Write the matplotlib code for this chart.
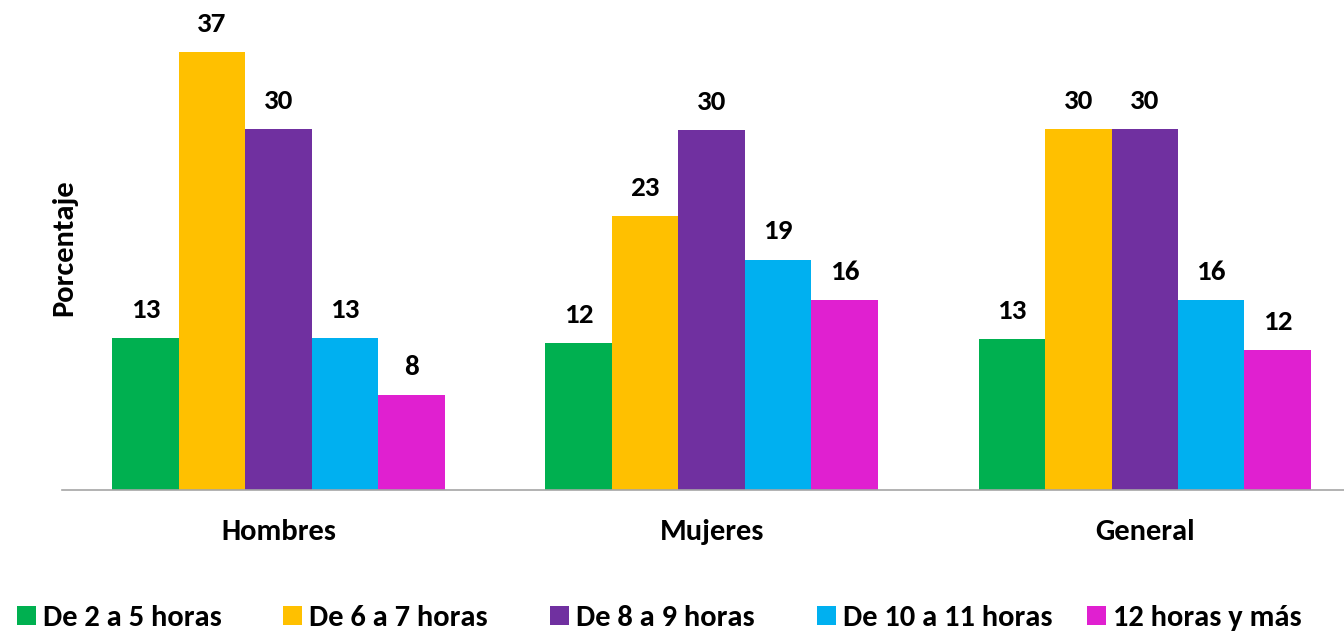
import matplotlib
matplotlib.use("Agg")
import matplotlib.pyplot as plt
import numpy as np
from matplotlib.patches import Patch

plt.rcParams['font.family'] = ['Carlito', 'DejaVu Sans']
plt.rcParams['font.weight'] = 'bold'

grupos = ["Hombres", "Mujeres", "General"]
series = ["De 2 a 5 horas", "De 6 a 7 horas", "De 8 a 9 horas",
          "De 10 a 11 horas", "12 horas y más"]
colores = ["#00B050", "#FFC000", "#7030A0", "#00B0F0", "#E020D0"]

h_2a5 = [12.8, 12.4, 12.7]
h_6a7 = [36.9, 23.1, 30.4]
h_8a9 = [30.4, 30.3, 30.4]
h_10a11 = [12.8, 19.4, 16.0]
h_12mas = [8.0, 16.0, 11.8]
valores = [h_2a5, h_6a7, h_8a9, h_10a11, h_12mas]

fig = plt.figure(figsize=(13.44, 6.35), dpi=100)
ax = fig.add_axes([62/1344, 145/635, 1282/1344, 475/635])

x = np.arange(len(grupos))
w = 0.1535
for i, (vals, c) in enumerate(zip(valores, colores)):
    pos = x + (i - 2) * w
    bars = ax.bar(pos, vals, width=w, color=c, label=series[i])
    for b, v in zip(bars, vals):
        ax.text(b.get_x() + b.get_width()/2, v + 1.7, "%.0f" % v,
                ha="center", va="baseline", fontsize=21, fontweight="bold")

ax.set_xlim(-0.5, 2.46)
ax.set_ylim(0, 40)
ax.set_yticks([])
ax.set_xticks(x)
ax.set_xticklabels(grupos, fontsize=22, fontweight="bold")
ax.tick_params(axis="x", length=0, pad=21)
for s in ["top", "right", "left"]:
    ax.spines[s].set_visible(False)
ax.spines["bottom"].set_color("#A6A6A6")
ax.spines["bottom"].set_linewidth(1.2)

fig.text(64/1344, 1 - 248/635, "Porcentaje", rotation=90, ha="center", va="center",
         fontsize=22, fontweight="bold")

# leyenda: una entrada por hueco, como en el original
x_leyenda = [5, 271, 538, 805, 1075]
for c, s, xl in zip(colores, series, x_leyenda):
    fig.legend(handles=[Patch(facecolor=c, label=s)], loc="center left",
               bbox_to_anchor=(xl/1344, 1 - 618/635), frameon=False, fontsize=22,
               handlelength=0.6, handleheight=0.6, handletextpad=0.23, borderaxespad=0)

fig.savefig("out.png", dpi=100)
